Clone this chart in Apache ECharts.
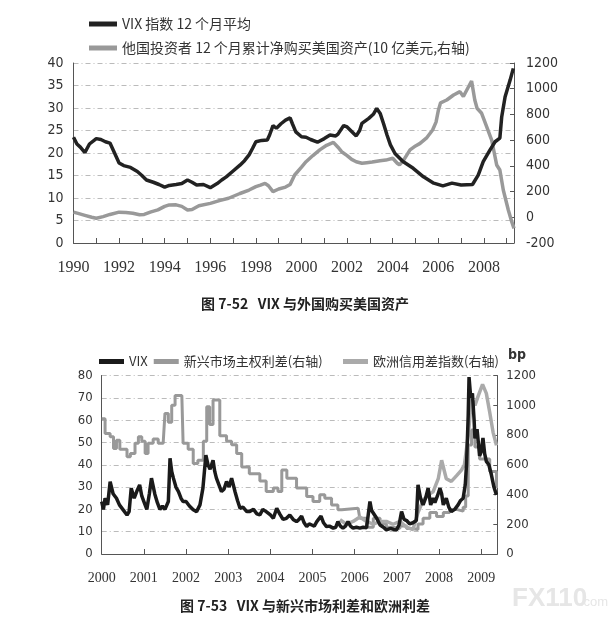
<!DOCTYPE html>
<html>
<head>
<meta charset="utf-8">
<script src="https://cdn.jsdelivr.net/npm/echarts@6/dist/echarts.min.js"></script>
<style>
  html, body { margin: 0; padding: 0; background: #fff; }
  #main { width: 610px; height: 620px; }
</style>
</head>
<body>
<div id="main"></div>
<script>
// ---- 图 7-52 : [年份, 数值] ----
var vixAvg = [
  [1990.0, 23.5], [1990.15, 22.0], [1990.3, 21.3], [1990.5, 20.1], [1990.7, 22.0],
  [1991.0, 23.2], [1991.2, 23.0], [1991.4, 22.5], [1991.6, 22.2], [1991.8, 20.0],
  [1992.0, 17.8], [1992.2, 17.2], [1992.5, 16.8], [1992.8, 15.9], [1993.0, 15.0],
  [1993.2, 14.0], [1993.5, 13.5], [1993.75, 13.0], [1994.0, 12.4], [1994.2, 12.8],
  [1994.5, 13.0], [1994.75, 13.2], [1995.0, 14.0], [1995.2, 13.5], [1995.4, 12.9],
  [1995.7, 13.0], [1996.0, 12.3], [1996.3, 13.2], [1996.5, 14.0], [1996.7, 14.7],
  [1997.0, 16.0], [1997.3, 17.3], [1997.5, 18.3], [1997.7, 19.6], [1997.85, 21.0],
  [1998.0, 22.5], [1998.25, 22.8], [1998.5, 22.9], [1998.6, 24.0], [1998.75, 26.1],
  [1998.9, 25.5], [1999.1, 26.5], [1999.3, 27.3], [1999.5, 27.8], [1999.6, 26.5],
  [1999.75, 24.7], [2000.0, 23.6], [2000.2, 23.5], [2000.4, 23.0], [2000.7, 22.4],
  [2001.0, 23.2], [2001.25, 24.0], [2001.5, 23.8], [2001.6, 24.2], [2001.85, 26.1],
  [2002.0, 25.8], [2002.2, 24.8], [2002.4, 23.8], [2002.55, 25.0], [2002.65, 26.6],
  [2002.95, 27.7], [2003.15, 28.6], [2003.3, 29.9], [2003.45, 28.8], [2003.6, 26.5],
  [2003.75, 24.0], [2003.9, 21.8], [2004.1, 19.9], [2004.45, 18.1], [2004.9, 16.6],
  [2005.35, 14.7], [2005.8, 13.3], [2006.2, 12.7], [2006.6, 13.3], [2007.0, 12.9],
  [2007.5, 13.0], [2007.75, 15.1], [2007.97, 18.1], [2008.27, 20.7], [2008.49, 22.5],
  [2008.7, 23.3], [2008.78, 28.0], [2008.93, 32.5], [2009.15, 36.2], [2009.29, 38.8]
];
var foreignBuy = [
  [1990.0, 40], [1990.2, 30], [1990.5, 15], [1990.8, 0], [1991.0, -8],
  [1991.3, 5], [1991.6, 22], [1992.0, 40], [1992.3, 38], [1992.6, 32],
  [1992.9, 20], [1993.1, 22], [1993.4, 42], [1993.7, 58], [1994.0, 85],
  [1994.2, 96], [1994.5, 97], [1994.75, 85], [1995.0, 57], [1995.2, 60],
  [1995.5, 90], [1996.0, 108], [1996.4, 130], [1996.8, 148], [1997.3, 185],
  [1997.7, 212], [1998.0, 238], [1998.2, 250], [1998.4, 264], [1998.55, 245],
  [1998.75, 200], [1999.0, 220], [1999.3, 235], [1999.5, 255], [1999.7, 329],
  [2000.0, 390], [2000.2, 432], [2000.5, 480], [2000.8, 524], [2001.1, 560],
  [2001.4, 583], [2001.6, 545], [2001.76, 510], [2002.0, 480], [2002.2, 450],
  [2002.4, 432], [2002.65, 420], [2002.86, 425], [2003.1, 430], [2003.44, 440],
  [2003.7, 445], [2004.0, 459], [2004.2, 420], [2004.3, 407], [2004.5, 450],
  [2004.76, 524], [2005.0, 555], [2005.2, 575], [2005.5, 620], [2005.75, 679],
  [2005.9, 740], [2006.0, 830], [2006.1, 890], [2006.37, 912], [2006.67, 951],
  [2006.95, 977], [2007.1, 940], [2007.25, 990], [2007.46, 1060], [2007.6, 912],
  [2007.7, 848], [2007.9, 809], [2008.12, 705], [2008.34, 601], [2008.56, 407],
  [2008.7, 368], [2008.85, 212], [2009.07, 57], [2009.22, -34], [2009.32, -86]
];

// ---- 图 7-53 ----
var vixDaily = [
  [2000.0, 23.5], [2000.04, 20], [2000.08, 25], [2000.14, 22], [2000.2, 32.4],
  [2000.27, 27], [2000.35, 25], [2000.42, 22], [2000.5, 20], [2000.6, 17.5],
  [2000.65, 19], [2000.7, 29.5], [2000.77, 25], [2000.83, 28], [2000.9, 31],
  [2000.95, 26], [2001.0, 23.5], [2001.07, 20], [2001.13, 27], [2001.18, 34],
  [2001.26, 26.8], [2001.32, 23], [2001.38, 20], [2001.44, 21.5], [2001.5, 20],
  [2001.58, 23.5], [2001.62, 42.9], [2001.66, 37], [2001.7, 34], [2001.76, 30],
  [2001.82, 28], [2001.88, 25], [2001.93, 23.5], [2002.0, 23.5], [2002.08, 21.5],
  [2002.17, 19.8], [2002.25, 19], [2002.33, 22], [2002.4, 29.5], [2002.47, 44.3],
  [2002.52, 40], [2002.57, 38], [2002.64, 42], [2002.68, 37], [2002.72, 34],
  [2002.78, 31], [2002.84, 28], [2002.9, 29], [2002.96, 32.5], [2003.02, 30],
  [2003.08, 34], [2003.16, 28], [2003.22, 24], [2003.28, 20.5], [2003.35, 21],
  [2003.44, 19], [2003.5, 19], [2003.6, 20], [2003.68, 18], [2003.75, 17.5],
  [2003.82, 20], [2003.9, 19], [2004.0, 17.5], [2004.07, 16], [2004.15, 20.5],
  [2004.22, 18], [2004.3, 15.5], [2004.38, 16], [2004.46, 17.5], [2004.54, 15.5],
  [2004.62, 14.5], [2004.68, 15.5], [2004.74, 17], [2004.8, 14], [2004.86, 12.3],
  [2004.92, 13.5], [2004.98, 13], [2005.04, 12.5], [2005.1, 14.5], [2005.2, 17],
  [2005.26, 14], [2005.33, 12.3], [2005.4, 12.5], [2005.49, 11.6], [2005.55, 12],
  [2005.6, 14.5], [2005.66, 12.5], [2005.72, 11.6], [2005.78, 12.5], [2005.84, 14.5],
  [2005.9, 12.5], [2005.96, 11.6], [2006.04, 12], [2006.12, 11.6], [2006.2, 12],
  [2006.28, 11.8], [2006.32, 12.3], [2006.36, 23.5], [2006.4, 19.5], [2006.44, 19],
  [2006.52, 16], [2006.6, 13], [2006.68, 12], [2006.75, 10.8], [2006.85, 11.5],
  [2006.92, 11], [2006.99, 10.8], [2007.05, 13], [2007.11, 19], [2007.17, 15.5],
  [2007.23, 15], [2007.3, 13.5], [2007.38, 14], [2007.46, 15], [2007.5, 31],
  [2007.56, 25], [2007.62, 22], [2007.68, 25], [2007.74, 29.5], [2007.8, 22],
  [2007.86, 25], [2007.9, 23], [2007.96, 26], [2008.02, 29.5], [2008.06, 27],
  [2008.1, 22], [2008.17, 25], [2008.23, 21], [2008.29, 19], [2008.37, 20],
  [2008.45, 22], [2008.51, 24], [2008.57, 25], [2008.62, 31], [2008.65, 40],
  [2008.69, 62], [2008.71, 79.3], [2008.75, 70], [2008.79, 72], [2008.83, 60],
  [2008.85, 51.8], [2008.9, 56], [2008.96, 44], [2009.0, 46], [2009.04, 52],
  [2009.08, 45], [2009.12, 41.5], [2009.18, 40], [2009.24, 35.5], [2009.3, 30],
  [2009.36, 26.5]
];
var emSpread = [
  [2000.0, 910], [2000.08, 810], [2000.2, 788], [2000.28, 710], [2000.35, 765],
  [2000.43, 705], [2000.6, 654], [2000.68, 675], [2000.79, 744], [2000.87, 788],
  [2000.95, 758], [2001.03, 675], [2001.1, 744], [2001.22, 773], [2001.34, 744],
  [2001.46, 758], [2001.5, 945], [2001.58, 885], [2001.66, 1000], [2001.74, 1065],
  [2001.9, 1065], [2001.93, 744], [2002.05, 705], [2002.17, 609], [2002.28, 630],
  [2002.41, 758], [2002.49, 990], [2002.56, 870], [2002.64, 1035], [2002.74, 1035],
  [2002.8, 795], [2002.96, 758], [2003.08, 735], [2003.2, 675], [2003.32, 585],
  [2003.5, 540], [2003.75, 490], [2003.9, 420], [2004.07, 443], [2004.18, 420],
  [2004.27, 564], [2004.39, 510], [2004.62, 443], [2004.86, 387], [2005.01, 353],
  [2005.17, 398], [2005.29, 375], [2005.45, 330], [2005.6, 297], [2005.69, 308],
  [2006.08, 308], [2006.12, 240], [2006.28, 180], [2006.44, 240], [2006.6, 203],
  [2006.75, 180], [2006.91, 171], [2007.07, 188], [2007.23, 171], [2007.35, 164],
  [2007.5, 201], [2007.62, 240], [2007.78, 279], [2007.94, 252], [2008.1, 279],
  [2008.25, 300], [2008.41, 288], [2008.57, 315], [2008.63, 390], [2008.69, 732],
  [2008.77, 833], [2008.85, 720], [2008.96, 638], [2009.08, 638], [2009.2, 555],
  [2009.36, 443]
];
var euCredit = [
  [2005.65, 230], [2005.8, 200], [2005.96, 219], [2006.12, 249], [2006.28, 219],
  [2006.44, 200], [2006.6, 219], [2006.75, 219], [2006.91, 200], [2007.07, 219],
  [2007.23, 180], [2007.38, 164], [2007.5, 279], [2007.62, 360], [2007.74, 398],
  [2007.86, 419], [2007.98, 506], [2008.06, 630], [2008.17, 506], [2008.29, 488],
  [2008.41, 525], [2008.53, 564], [2008.6, 600], [2008.69, 795], [2008.77, 1044],
  [2008.85, 999], [2008.93, 1065], [2009.03, 1140], [2009.12, 1080], [2009.2, 953],
  [2009.28, 818], [2009.36, 730]
];

var chart = echarts.init(document.getElementById('main'));

var cjk = 'Noto Sans CJK SC';
var narrow = 'DejaVu Sans Condensed';
var serif = 'Liberation Serif';
var gridLine = { show: true, lineStyle: { color: '#bbb', type: [5, 3, 1, 3], width: 1 } };
var axisLine = { show: true, lineStyle: { color: '#555', width: 1 } };
var plain = function (v) { return String(v); };

chart.setOption({
  animation: false,
  backgroundColor: '#fff',
  legend: [{
    data: ['VIX 指数 12 个月平均', '他国投资者 12 个月累计净购买美国资产(10 亿美元,右轴)'],
    orient: 'vertical', left: 84, top: 12, itemGap: 10,
    icon: 'rect', itemWidth: 28, itemHeight: 5,
    textStyle: { fontFamily: cjk, fontSize: 14, color: '#333' }
  }, {
    data: ['VIX', '新兴市场主权利差(右轴)'],
    left: 94, top: 350, itemGap: 6,
    icon: 'rect', itemWidth: 25, itemHeight: 5,
    textStyle: { fontFamily: cjk, fontSize: 13, color: '#333' }
  }, {
    data: ['欧洲信用差指数(右轴)'],
    left: 338, top: 350,
    icon: 'rect', itemWidth: 25, itemHeight: 5,
    textStyle: { fontFamily: cjk, fontSize: 13, color: '#333' }
  }],
  grid: [
    { left: 73.5, right: 96, top: 63, height: 180 },
    { left: 101.7, right: 112.7, top: 375.5, height: 178.5 }
  ],
  xAxis: [{
    gridIndex: 0, type: 'value', min: 1990, max: 2009.32, interval: 1,
    axisLine: axisLine,
    axisTick: { show: true, inside: true, length: 5, lineStyle: { color: '#555' } },
    splitLine: { show: false },
    axisLabel: {
      margin: 17, fontFamily: serif, fontSize: 16, color: '#333',
      formatter: function (v) { return (v % 2 === 0) ? String(v) : ''; }
    }
  }, {
    gridIndex: 1, type: 'value', min: 2000, max: 2009.38, interval: 1,
    axisLine: axisLine,
    axisTick: { show: true, inside: true, length: 5, lineStyle: { color: '#555' } },
    splitLine: { show: false },
    axisLabel: {
      margin: 17, fontFamily: serif, fontSize: 14, color: '#333',
      formatter: function (v) { return Number.isInteger(v) ? String(v) : ''; }
    }
  }],
  yAxis: [{
    gridIndex: 0, type: 'value', min: 0, max: 40, interval: 5, position: 'left',
    axisLine: axisLine, axisTick: { show: false }, splitLine: gridLine,
    axisLabel: { margin: 10, fontFamily: narrow, fontSize: 14, color: '#333', formatter: plain }
  }, {
    gridIndex: 0, type: 'value', min: -200, max: 1200, interval: 200, position: 'right',
    axisLine: axisLine,
    axisTick: { show: true, inside: true, length: 4, lineStyle: { color: '#555' } },
    splitLine: { show: false },
    axisLabel: { margin: 12, fontFamily: narrow, fontSize: 14, color: '#333', formatter: plain }
  }, {
    gridIndex: 1, type: 'value', min: 0, max: 80, interval: 10, position: 'left',
    axisLine: axisLine, axisTick: { show: false }, splitLine: gridLine,
    axisLabel: { margin: 9, fontFamily: narrow, fontSize: 13, color: '#333', formatter: plain }
  }, {
    gridIndex: 1, type: 'value', min: 0, max: 1200, interval: 200, position: 'right',
    axisLine: axisLine,
    axisTick: { show: true, inside: true, length: 4, lineStyle: { color: '#555' } },
    splitLine: { show: false },
    axisLabel: { margin: 9, fontFamily: narrow, fontSize: 13, color: '#333', formatter: plain }
  }],
  series: [{
    name: 'VIX 指数 12 个月平均', type: 'line', xAxisIndex: 0, yAxisIndex: 0,
    data: vixAvg, showSymbol: false, z: 3,
    itemStyle: { color: '#222' }, lineStyle: { color: '#222', width: 3.5 }
  }, {
    name: '他国投资者 12 个月累计净购买美国资产(10 亿美元,右轴)', type: 'line',
    xAxisIndex: 0, yAxisIndex: 1, data: foreignBuy, showSymbol: false, z: 2,
    itemStyle: { color: '#999' }, lineStyle: { color: '#999', width: 3.5 }
  }, {
    name: '新兴市场主权利差(右轴)', type: 'line', xAxisIndex: 1, yAxisIndex: 3,
    data: emSpread, step: 'end', showSymbol: false, z: 2,
    itemStyle: { color: '#999' }, lineStyle: { color: '#999', width: 3 }
  }, {
    name: '欧洲信用差指数(右轴)', type: 'line', xAxisIndex: 1, yAxisIndex: 3,
    data: euCredit, showSymbol: false, z: 2,
    itemStyle: { color: '#aaa' }, lineStyle: { color: '#aaa', width: 3.5 }
  }, {
    name: 'VIX', type: 'line', xAxisIndex: 1, yAxisIndex: 2,
    data: vixDaily, showSymbol: false, z: 3,
    itemStyle: { color: '#1a1a1a' }, lineStyle: { color: '#1a1a1a', width: 3.5 }
  }],
  graphic: [{
    type: 'text', left: 'center', top: 297,
    style: { text: '图 7-52   VIX 与外国购买美国资产', font: '600 14px "Noto Sans CJK SC"', fill: '#222' }
  }, {
    type: 'text', left: 'center', top: 599,
    style: { text: '图 7-53   VIX 与新兴市场利差和欧洲利差', font: '600 14px "Noto Sans CJK SC"', fill: '#222' }
  }, {
    type: 'text', left: 508, top: 348,
    style: { text: 'bp', font: 'bold 14px "DejaVu Sans Condensed"', fill: '#333' }
  }, {
    type: 'text', left: 512, top: 586,
    style: { text: 'FX110', font: 'bold 26px "Liberation Sans"', fill: '#e6e6e6' }
  }, {
    type: 'text', left: 580, top: 596,
    style: { text: '.com', font: '13px "Liberation Sans"', fill: '#e6e6e6' }
  }]
});
</script>
</body>
</html>
